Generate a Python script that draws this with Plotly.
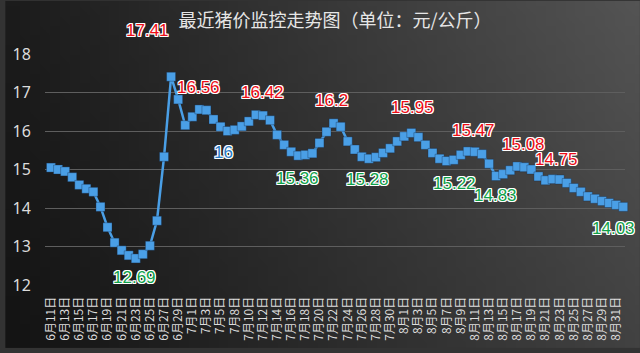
import base64, struct, zlib
import plotly.graph_objects as go

# ---------------- data ----------------
june_days = list(range(11, 31))
july_days = [1, 2, 3, 4, 5, 6] + list(range(8, 32))
aug_days = list(range(1, 32))
sept_days = [1]
dates = ([f"6月{d}日" for d in june_days] + [f"7月{d}日" for d in july_days] +
         [f"8月{d}日" for d in aug_days] + [f"9月{d}日" for d in sept_days])

prices = [15.05, 15.00, 14.95, 14.80, 14.60, 14.50, 14.42, 14.03, 13.50, 13.10,
          12.90, 12.77, 12.69, 12.80, 13.02, 13.67, 15.33, 17.41, 16.82, 16.15,
          16.37, 16.56, 16.54, 16.30, 16.11, 16.00, 16.03, 16.12, 16.25, 16.42,
          16.40, 16.28, 15.90, 15.64, 15.46, 15.36, 15.38, 15.42, 15.69, 15.98,
          16.20, 16.11, 15.73, 15.52, 15.33, 15.28, 15.32, 15.43, 15.55, 15.73,
          15.86, 15.95, 15.84, 15.64, 15.43, 15.28, 15.22, 15.25, 15.38, 15.47,
          15.46, 15.40, 15.15, 14.83, 14.88, 14.98, 15.08, 15.06, 15.00, 14.82,
          14.72, 14.75, 14.74, 14.65, 14.52, 14.42, 14.30, 14.24, 14.18, 14.13,
          14.08, 14.03]

peak_idx = [17, 21, 29, 40, 51, 59, 66, 71]
low_idx = [12, 35, 45, 56, 63, 81]
mid_idx = [25]

y_ticks = [12, 13, 14, 15, 16, 17, 18]
title_text = "最近猪价监控走势图（单位：元/公斤）"

# ---------------- style ----------------
W, H = 640, 353
ML, MR, MT, MB = 40, 15, 54, 64
label_shift = {17: (-24, 46), 21: (-1, 22), 29: (7, 22), 40: (-2, 23), 51: (1, 25),
               59: (6, 21), 66: (6, 22), 71: (4, 20),
               12: (-1, -19), 35: (-1, -23), 45: (-1, -21), 56: (8, -22),
               63: (-1, -19), 81: (-10, -22), 25: (-4, -21)}
LINE_BLUE = "#4a9fe6"
RED = "#ec0d16"
GREEN = "#0fa24a"
BLUE_TXT = "#2a7cc6"
outline = ("1px 0px 0px #fff, -1px 0px 0px #fff, 0px 1px 0px #fff, 0px -1px 0px #fff, "
           "1px 1px 0px #fff, -1px -1px 0px #fff, 1px -1px 0px #fff, -1px 1px 0px #fff")


def gradient_png(w, h):
    rows = b""
    for j in range(h):
        row = b"\x00"
        for i in range(w):
            fx, fy = i / (w - 1), j / (h - 1)
            v = 28 + 46 * fx - 8 * fy + 10 * (1 - fy) * fx
            v = int(max(0, min(255, v)))
            row += bytes((v, v, v))
        rows += row

    def chunk(tag, data):
        c = struct.pack(">I", len(data)) + tag + data
        return c + struct.pack(">I", zlib.crc32(tag + data) & 0xffffffff)

    png = b"\x89PNG\r\n\x1a\n"
    png += chunk(b"IHDR", struct.pack(">IIBBBBB", w, h, 8, 2, 0, 0, 0))
    png += chunk(b"IDAT", zlib.compress(rows, 9))
    png += chunk(b"IEND", b"")
    return "data:image/png;base64," + base64.b64encode(png).decode()


pw = W - ML - MR
ph = H - MT - MB

fig = go.Figure()
fig.add_trace(go.Scatter(
    x=dates, y=prices, mode="lines+markers",
    line=dict(color=LINE_BLUE, width=2.5),
    marker=dict(symbol="square", size=9, color=LINE_BLUE,
                line=dict(color="rgba(20,40,70,0.35)", width=1)),
    hoverinfo="skip", showlegend=False, cliponaxis=False,
))

anns = []
for group, color in ((peak_idx, RED), (low_idx, GREEN), (mid_idx, BLUE_TXT)):
    for i in group:
        dx, dy = label_shift[i]
        anns.append(dict(
            x=dates[i], y=prices[i], xref="x", yref="y",
            text=f"{prices[i]:g}", showarrow=False,
            xshift=dx, yshift=dy,
            font=dict(family="Liberation Sans, Arial", size=17, color=color,
                      shadow=outline),
        ))

fig.update_layout(
    width=W, height=H,
    margin=dict(l=ML, r=MR, t=MT, b=MB, pad=0),
    paper_bgcolor="#333333", plot_bgcolor="rgba(0,0,0,0)",
    title=dict(text=title_text, x=0.5, xref="paper", xanchor="center",
               y=1 - 21 / H, yanchor="middle", yref="container",
               font=dict(family="Noto Sans CJK SC", size=18, color="#e6e6e6")),
    annotations=anns,
    images=[dict(source=gradient_png(64, 36), xref="paper", yref="paper",
                 x=-ML / pw, y=1 + MT / ph, sizex=W / pw, sizey=H / ph,
                 xanchor="left", yanchor="top", sizing="stretch",
                 layer="below")],
    xaxis=dict(type="category", categoryorder="array", categoryarray=dates,
               range=[-0.85, len(dates) - 0.75],
               tickmode="array", tickvals=dates[::2], ticktext=dates[::2],
               tickangle=-90, showgrid=False, zeroline=False, showline=False,
               ticks="outside", ticklen=6, tickcolor="rgba(0,0,0,0)",
               tickfont=dict(family="Noto Sans CJK SC", size=12, color="#dddddd")),
    yaxis=dict(range=[12, 18], tickvals=y_ticks, showgrid=True,
               gridcolor="#5e5e5e", gridwidth=1, zeroline=False, showline=False,
               ticks="outside", ticklen=10, tickcolor="rgba(0,0,0,0)",
               tickfont=dict(family="Noto Sans", size=16, color="#dcdcdc")),
)

fig.write_html("out.html")
